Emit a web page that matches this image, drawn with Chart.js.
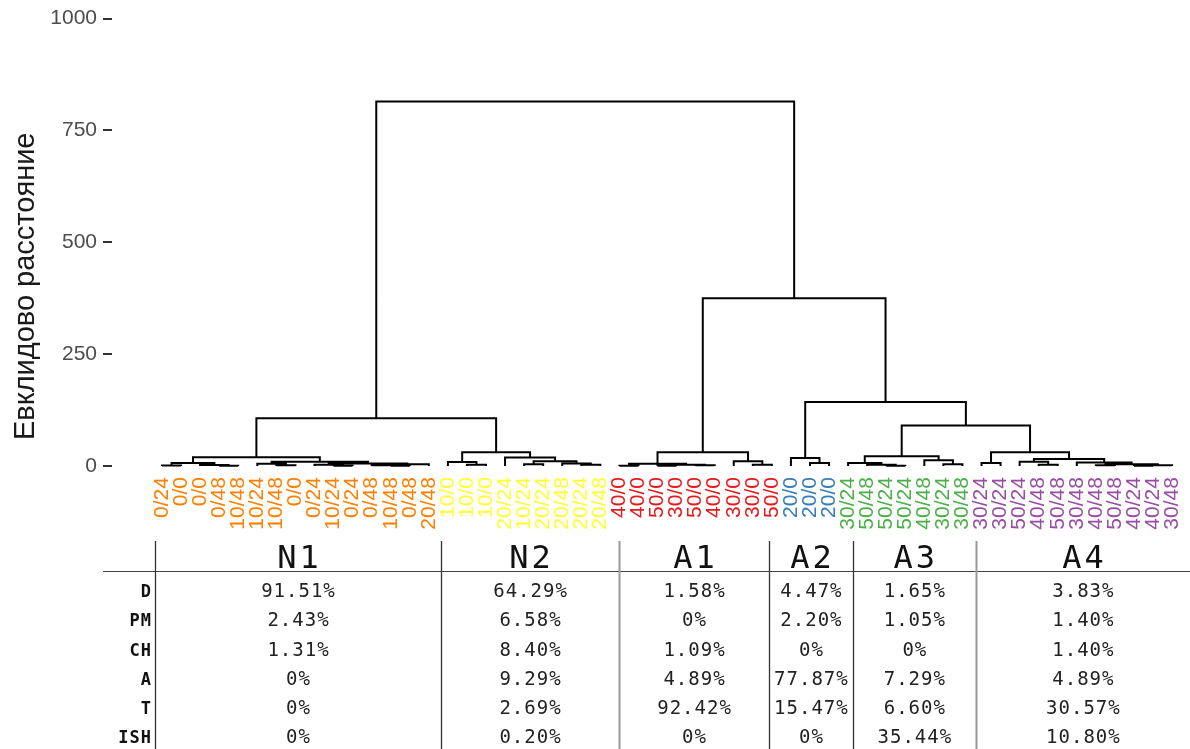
<!DOCTYPE html>
<html>
<head>
<meta charset="utf-8">
<script src="https://cdn.jsdelivr.net/npm/chart.js@4.4.1/dist/chart.umd.min.js"></script>
<style>
  html, body { margin: 0; padding: 0; background: #ffffff; }
  canvas { display: block; }
</style>
</head>
<body>
<canvas id="dendro" width="1190" height="749"></canvas>
<script>
// ---------- data ----------
// leaf labels, left to right
const leafLabels = [
  '0/24','0/0','0/0','0/48','10/48','10/24','10/48','0/0','0/24','10/24','0/24','0/48','10/48','0/48','20/48',
  '10/0','10/0','10/0','20/24','10/24','20/24','20/48','20/24','20/48',
  '40/0','40/0','50/0','30/0','50/0','40/0','30/0','30/0','50/0',
  '20/0','20/0','20/0',
  '30/24','50/48','50/24','50/24','40/48','30/24','30/48',
  '30/24','30/24','50/24','40/48','50/48','30/48','40/48','50/48','40/24','40/24','30/48'
];
// cluster names and the number of leaves in each
const clusterNames = ['N1', 'N2', 'A1', 'A2', 'A3', 'A4'];
const clusterSizes = [15, 9, 9, 3, 7, 11];

// merge trees: [left, right, height]; a number is a leaf (1-based position)
const treeN1 = [[[1, 2, 1.5], [3, [4, 5, 1], 2.5], 7],
                [[6, [7, 8, 2], 5], [[9, [10, 11, 1], 3], [[12, [13, 14, 1], 2], 15, 4], 6], 9.5], 20];
const treeN2 = [[16, [17, 18, 3], 9], [19, [[20, 21, 4], [22, [23, 24, 3], 6], 11], 19.5], 31];
const treeA1 = [[[25, 26, 1], [[27, 28, 1], [29, 30, 2], 3], 5], [31, [32, 33, 3], 11], 31];
const treeA2 = [34, [35, 36, 7], 18];
const treeA3 = [[37, [38, [39, 40, 1], 3], 7], [41, [42, 43, 4], 13], 22];
const treeA4 = [[44, 45, 7], [[46, [47, 48, 3], 10], [49, [[50, 51, 2], [[52, 53, 1], 54, 2], 4], 8], 16], 31];
const treeRoot = [[treeN1, treeN2, 107], [treeA1, [treeA2, [treeA3, treeA4, 91], 143], 375], 815];

// y axis ticks
const yTickValues = [0, 250, 500, 750, 1000];

// cluster composition table (percent)
const rowNames = ['D', 'PM', 'CH', 'A', 'T', 'ISH'];
const valuesN1 = [91.51, 2.43, 1.31, 0, 0, 0];
const valuesN2 = [64.29, 6.58, 8.40, 9.29, 2.69, 0.20];
const valuesA1 = [1.58, 0, 1.09, 4.89, 92.42, 0];
const valuesA2 = [4.47, 2.20, 0, 77.87, 15.47, 0];
const valuesA3 = [1.65, 1.05, 0, 7.29, 6.60, 35.44];
const valuesA4 = [3.83, 1.40, 1.40, 4.89, 30.57, 10.80];
const tableColumns = [valuesN1, valuesN2, valuesA1, valuesA2, valuesA3, valuesA4];

// ---------- styles ----------
const clusterColors = ['#FF7F00', '#FFFF33', '#E41A1C', '#377EB8', '#4DAF4A', '#984EA3'];
// table column edges in leaf-position units, and which rules are drawn light grey
const tableEdges = [0.63, 15.64, 24.98, 32.85, 37.25, 43.7, 54.94];
const lightEdges = [2, 5];

// ---------- dendrogram segments ----------
function buildSegments(node, out) {
  if (typeof node === 'number') return { x: node, h: 0 };
  const a = buildSegments(node[0], out);
  const b = buildSegments(node[1], out);
  const H = node[2];
  out.push({ x: a.x, y: a.h }, { x: a.x, y: H }, { x: b.x, y: H }, { x: b.x, y: b.h }, { x: b.x, y: null });
  return { x: (a.x + b.x) / 2, h: H };
}
const segments = [];
buildSegments(treeRoot, segments);

// colour of every leaf label from its cluster
const leafColors = [];
clusterSizes.forEach((n, k) => { for (let i = 0; i < n; i++) leafColors.push(clusterColors[k]); });

function fmtPct(v) { return v === 0 ? '0%' : v.toFixed(2) + '%'; }

// text with extra letter spacing, anchored at its centre or right end
function spacedText(ctx, text, x, y, spacing, anchor) {
  ctx.letterSpacing = spacing + 'px';
  const w = ctx.measureText(text).width - spacing;
  ctx.textAlign = 'left';
  ctx.fillText(text, anchor === 'right' ? x - w : x - w / 2, y);
}

// leaf labels and the composition table under the tree
const extrasPlugin = {
  id: 'extras',
  afterDraw(chart) {
    const ctx = chart.ctx;
    const xs = chart.scales.x, ys = chart.scales.y;
    const y0 = ys.getPixelForValue(0);

    ctx.save();
    ctx.font = '21px "Liberation Sans", Arial, sans-serif';
    ctx.textAlign = 'right';
    ctx.textBaseline = 'middle';
    leafLabels.forEach((lab, i) => {
      const px = xs.getPixelForValue(i + 1);
      ctx.save();
      ctx.translate(px, y0 + 11);
      ctx.rotate(-Math.PI / 2);
      ctx.fillStyle = leafColors[i];
      ctx.fillText(lab, 0, 0);
      ctx.restore();
    });
    ctx.restore();

    // table
    const edgesPx = tableEdges.map(v => xs.getPixelForValue(v));
    const top = 541, headerLine = 571, bottom = 749;
    ctx.save();
    ctx.strokeStyle = '#444';
    ctx.lineWidth = 1.2;
    ctx.beginPath();
    ctx.moveTo(103, headerLine + 0.5);
    ctx.lineTo(1190, headerLine + 0.5);
    ctx.stroke();
    edgesPx.slice(0, 6).forEach((px, k) => {
      const light = lightEdges.includes(k);
      ctx.strokeStyle = light ? '#999' : '#333';
      ctx.lineWidth = light ? 2 : 1.3;
      ctx.beginPath();
      ctx.moveTo(Math.round(px) + 0.5, top);
      ctx.lineTo(Math.round(px) + 0.5, bottom);
      ctx.stroke();
    });

    ctx.fillStyle = '#111';
    ctx.textBaseline = 'alphabetic';
    ctx.font = '32px "DejaVu Sans Mono", monospace';
    clusterNames.forEach((name, k) => {
      const cx = (edgesPx[k] + edgesPx[k + 1]) / 2;
      spacedText(ctx, name, cx, 568, 3, 'center');
    });

    const rowBase = [597, 626, 656, 685, 714, 743];
    ctx.font = '19px "DejaVu Sans Mono", monospace';
    ctx.fillStyle = '#222';
    tableColumns.forEach((col, k) => {
      const cx = (edgesPx[k] + edgesPx[k + 1]) / 2;
      col.forEach((v, r) => spacedText(ctx, fmtPct(v), cx, rowBase[r], 1, 'center'));
    });
    ctx.font = 'bold 17px "DejaVu Sans Mono", monospace';
    ctx.fillStyle = '#111';
    rowNames.forEach((name, r) => spacedText(ctx, name, edgesPx[0] - 4, rowBase[r], 1, 'right'));
    ctx.restore();
  }
};

new Chart(document.getElementById('dendro'), {
  type: 'line',
  data: {
    datasets: [{
      data: segments,
      borderColor: '#000000',
      borderWidth: 2,
      pointRadius: 0,
      spanGaps: false,
      tension: 0,
      clip: false
    }]
  },
  options: {
    responsive: false,
    animation: false,
    devicePixelRatio: 1,
    layout: { padding: { top: 18, right: 0, bottom: 195, left: 0 } },
    plugins: { legend: { display: false }, tooltip: { enabled: false } },
    scales: {
      x: {
        type: 'linear',
        display: false,
        min: -1.624,
        max: 54.94
      },
      y: {
        type: 'linear',
        min: -196.4,
        max: 1000,
        afterFit(scale) { scale.width = 112; },
        afterBuildTicks(scale) { scale.ticks = yTickValues.map(v => ({ value: v })); },
        border: { display: false },
        grid: { drawOnChartArea: false, drawTicks: true, tickLength: 9, color: '#333333', lineWidth: 2 },
        ticks: {
          padding: 6,
          color: '#4d4d4d',
          font: { family: '"Liberation Sans", Arial, sans-serif', size: 21 },
          callback: v => String(v)
        },
        title: {
          display: true,
          text: 'Евклидово расстояние',
          color: '#1a1a1a',
          font: { family: '"Liberation Sans", Arial, sans-serif', size: 29 },
          padding: { top: 9, bottom: 0 }
        }
      }
    }
  },
  plugins: [extrasPlugin]
});
</script>
</body>
</html>
